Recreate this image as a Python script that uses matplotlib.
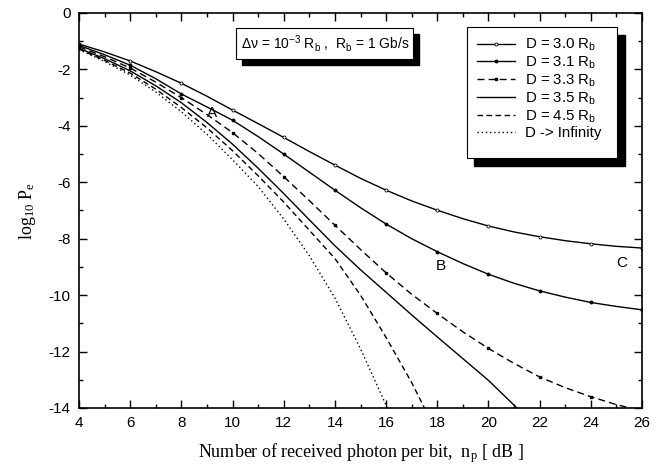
import matplotlib
matplotlib.use("Agg")
import matplotlib.pyplot as plt
from matplotlib.patches import Rectangle
import numpy as np

plt.rcParams['font.family'] = ['Liberation Sans', 'DejaVu Sans']
plt.rcParams['mathtext.default'] = 'regular'
plt.rcParams['axes.unicode_minus'] = False

# photon number per bit [dB]
x = [4, 5, 6, 7, 8, 9, 10, 11, 12, 13, 14, 15, 16, 17, 18, 19, 20, 21, 22, 23, 24, 25, 26]

# log10 Pe
d30 = [-1.10, -1.38, -1.70, -2.08, -2.49, -2.95, -3.44, -3.92, -4.41, -4.91, -5.39, -5.86,
       -6.28, -6.66, -6.99, -7.29, -7.55, -7.76, -7.93, -8.07, -8.18, -8.27, -8.33]
d31 = [-1.15, -1.48, -1.85, -2.33, -2.87, -3.33, -3.80, -4.38, -5.00, -5.64, -6.28, -6.90,
       -7.48, -8.00, -8.46, -8.88, -9.26, -9.58, -9.85, -10.07, -10.26, -10.40, -10.52]
d33 = [-1.20, -1.55, -1.95, -2.45, -3.00, -3.60, -4.24, -4.98, -5.80, -6.65, -7.52, -8.38,
       -9.21, -9.97, -10.65, -11.30, -11.89, -12.42, -12.90, -13.28, -13.60, -13.88, -14.10]
d35 = [-1.25, -1.62, -2.05, -2.58, -3.18, -3.88, -4.65, -5.50, -6.40, -7.33, -8.25, -9.10,
       -9.90, -10.70, -11.48, -12.25, -13.02, -13.90, -14.80]
d45 = [-1.28, -1.68, -2.13, -2.70, -3.35, -4.07, -4.88, -5.77, -6.70, -7.70, -8.70, -10.00,
       -11.50, -13.10, -14.90]
dinf = [-1.30, -1.72, -2.20, -2.80, -3.50, -4.30, -5.20, -6.15, -7.30, -8.60, -10.10, -11.90,
        -13.90, -16.20]

labels = ['D = 3.0 R$_b$', 'D = 3.1 R$_b$', 'D = 3.3 R$_b$', 'D = 3.5 R$_b$',
          'D = 4.5 R$_b$', 'D -> Infinity']

fig = plt.figure(figsize=(6.63, 4.74), dpi=100)
ax = fig.add_axes([79 / 663, 1 - 408 / 474, 563 / 663, 395 / 474])

lw = 1.0
ax.plot(x[:len(d30)], d30, '-', color='k', lw=lw, marker='o', ms=2.2, mfc='white', mew=0.6,
        markevery=2, label=labels[0])
ax.plot(x[:len(d31)], d31, '-', color='k', lw=lw, marker='o', ms=1.8, markevery=2,
        label=labels[1])
ax.plot(x[:len(d33)], d33, color='k', lw=lw, ls=(0, (5, 3)), marker='s', ms=1.8,
        markevery=2, label=labels[2])
ax.plot(x[:len(d35)], d35, '-', color='k', lw=lw, label=labels[3])
ax.plot(x[:len(d45)], d45, color='k', lw=lw, ls=(0, (4, 2.5)), label=labels[4])
ax.plot(x[:len(dinf)], dinf, color='k', lw=lw, ls=(0, (1, 2)), label=labels[5])

ax.set_xlim(4, 26)
ax.set_ylim(-14, 0)
ax.set_xticks(np.arange(4, 27, 2))
ax.set_xticks(np.arange(4, 27, 1), minor=True)
ax.set_yticks(np.arange(-14, 1, 2))
ax.set_yticks(np.arange(-14, 1, 1), minor=True)
ax.tick_params(which='both', direction='in', top=True, right=True, labelsize=11,
               width=1.0)
ax.tick_params(which='major', length=6, pad=6)
ax.tick_params(which='minor', length=3)
for s in ax.spines.values():
    s.set_linewidth(1.2)

ax.set_xlabel('Number of received photon per bit,  n$_p$ [ dB ]', family='Liberation Serif',
              fontsize=13, labelpad=8)
ax.set_ylabel('log$_{10}$ P$_e$', family='Liberation Serif', fontsize=13, labelpad=8)

ax.text(9.2, -3.55, 'A', fontsize=11, ha='center', va='center')
ax.text(18.15, -8.95, 'B', fontsize=11, ha='center', va='center')
ax.text(25.2, -8.85, 'C', fontsize=11, ha='center', va='center')

# parameter box with drop shadow
ax.add_patch(Rectangle((0.279 + 0.011, 0.884 - 0.016), 0.314, 0.078, transform=ax.transAxes,
                       facecolor='k', edgecolor='k', zorder=4))
ax.add_patch(Rectangle((0.279, 0.884), 0.314, 0.078, transform=ax.transAxes,
                       facecolor='white', edgecolor='k', lw=0.8, zorder=5))
ax.text(0.438, 0.923, '$\\Delta\\nu$ = 10$^{-3}$ R$_b$ ,  R$_b$ = 1 Gb/s', transform=ax.transAxes,
        fontsize=10, ha='center', va='center', zorder=6)

# legend box with drop shadow
ax.add_patch(Rectangle((0.689 + 0.013, 0.633 - 0.020), 0.267, 0.332, transform=ax.transAxes,
                       facecolor='k', edgecolor='k', zorder=4))
ax.add_patch(Rectangle((0.689, 0.633), 0.267, 0.332, transform=ax.transAxes,
                       facecolor='white', edgecolor='k', lw=0.8, zorder=5))
leg = ax.legend(loc='upper left', bbox_to_anchor=(0.697, 0.955), frameon=False,
                fontsize=10.8, handlelength=2.5, labelspacing=0.1, handletextpad=0.7,
                borderaxespad=0)
leg.set_zorder(6)

fig.savefig('out.png', dpi=100)
